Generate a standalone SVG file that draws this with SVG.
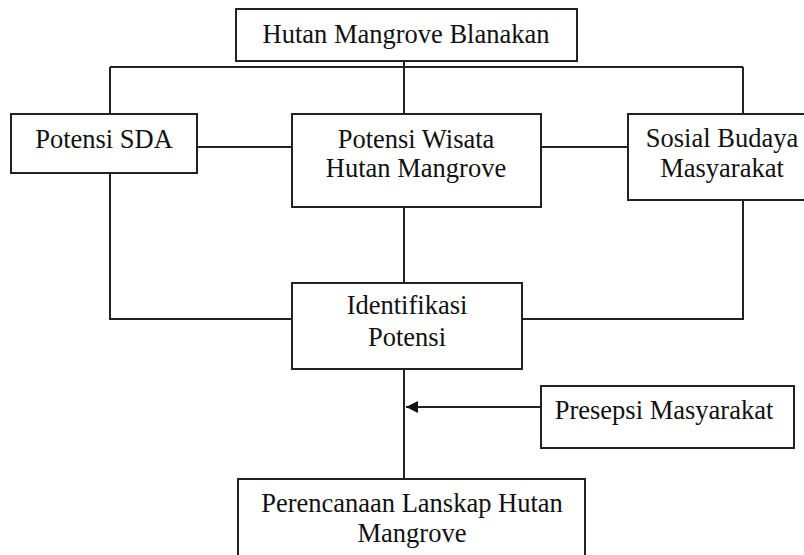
<svg xmlns="http://www.w3.org/2000/svg" width="804" height="555" viewBox="0 0 804 555">
<style>
.box{fill:#fff;stroke:#222;stroke-width:2}
.ln{fill:none;stroke:#222;stroke-width:2}
.t{font-family:'Liberation Serif','Times New Roman',serif;font-size:26.5px;fill:#111;text-anchor:middle}
</style>
<defs>
<marker id="ah" viewBox="0 0 10 10" refX="10" refY="5" markerWidth="6" markerHeight="6" orient="auto" markerUnits="strokeWidth">
<path d="M0,0 L10,5 L0,10 Z" fill="#111"/>
</marker>
</defs>
<rect width="804" height="555" fill="#fff"/>
<g id="connectors">
<path class="ln" d="M404,61 V67 M110,67 H743 M110,67 V114 M404,67 V114 M743,67 V114"/>
<path class="ln" d="M197,147 H292 M541,147 H628"/>
<path class="ln" d="M110,173 V319 H292 M743,200 V319 H522 M404,207 V283 M404,369 V479"/>
<path class="ln" d="M541,407 H406" marker-end="url(#ah)"/>
</g>
<g id="n-hutan">
<rect class="box" x="236" y="9" width="341" height="52"/>
<text class="t" x="406" y="43">Hutan Mangrove Blanakan</text>
</g>
<g id="n-sda">
<rect class="box" x="11" y="114" width="186" height="59"/>
<text class="t" x="104" y="148">Potensi SDA</text>
</g>
<g id="n-wisata">
<rect class="box" x="292" y="114" width="249" height="93"/>
<text class="t" x="416" y="148">Potensi Wisata</text>
<text class="t" x="416" y="177">Hutan Mangrove</text>
</g>
<g id="n-sosial">
<rect class="box" x="628" y="114" width="190" height="86"/>
<text class="t" x="722" y="147">Sosial Budaya</text>
<text class="t" x="722" y="177">Masyarakat</text>
</g>
<g id="n-identifikasi">
<rect class="box" x="292" y="283" width="230" height="86"/>
<text class="t" x="407" y="314">Identifikasi</text>
<text class="t" x="407" y="346">Potensi</text>
</g>
<g id="n-presepsi">
<rect class="box" x="541" y="386" width="253" height="62"/>
<text class="t" x="664" y="419">Presepsi Masyarakat</text>
</g>
<g id="n-perencanaan">
<rect class="box" x="238" y="479" width="347" height="90"/>
<text class="t" x="412" y="512">Perencanaan Lanskap Hutan</text>
<text class="t" x="412" y="542">Mangrove</text>
</g>
</svg>
